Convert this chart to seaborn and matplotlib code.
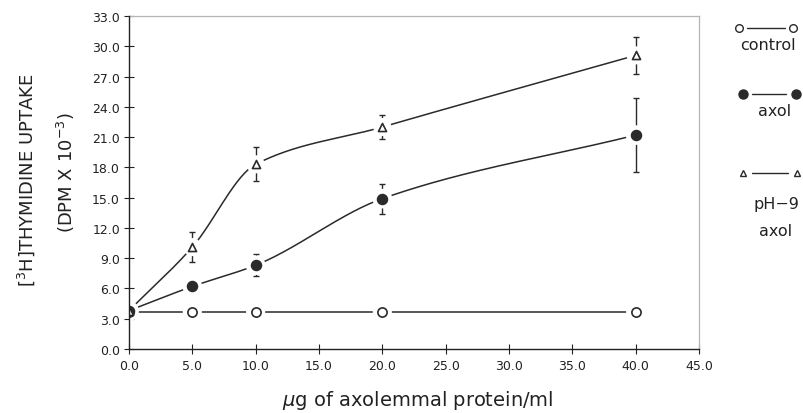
import numpy as np
import pandas as pd
import matplotlib
matplotlib.use("Agg")
import matplotlib.pyplot as plt
import seaborn as sns

# ---- data ----
dose = [0, 5, 10, 20, 40]
control = [3.7, 3.7, 3.7, 3.7, 3.7]
axol = [3.8, 6.2, 8.3, 14.9, 21.2]
axol_err = [0.3, 0.0, 1.1, 1.5, 3.7]
ph9 = [3.8, 10.1, 18.3, 22.0, 29.1]
ph9_err = [0.0, 1.5, 1.7, 1.2, 1.8]
x_ticks = [0, 5, 10, 15, 20, 25, 30, 35, 40, 45]
y_ticks = [0, 3, 6, 9, 12, 15, 18, 21, 24, 27, 30, 33]

sns.set_theme(style="white")
plt.rcParams['font.family'] = ['DejaVu Sans']

LINE = "#2a2a2a"
TXT = "#222222"


def smooth(x, y, n=300):
    """Monotone cubic Hermite curve through the points (drawing only)."""
    x = np.asarray(x, float); y = np.asarray(y, float)
    h = np.diff(x); d = np.diff(y) / h
    m = np.zeros_like(y)
    m[0] = d[0]; m[-1] = d[-1]
    for k in range(1, len(x) - 1):
        if d[k - 1] * d[k] <= 0:
            m[k] = 0
        else:
            w1 = 2 * h[k] + h[k - 1]; w2 = h[k] + 2 * h[k - 1]
            m[k] = (w1 + w2) / (w1 / d[k - 1] + w2 / d[k])
    xs = np.linspace(x[0], x[-1], n)
    idx = np.clip(np.searchsorted(x, xs) - 1, 0, len(x) - 2)
    t = (xs - x[idx]) / h[idx]
    h00 = 2 * t**3 - 3 * t**2 + 1; h10 = t**3 - 2 * t**2 + t
    h01 = -2 * t**3 + 3 * t**2; h11 = t**3 - t**2
    ys = h00 * y[idx] + h10 * h[idx] * m[idx] + h01 * y[idx + 1] + h11 * h[idx] * m[idx + 1]
    return xs, ys


fig = plt.figure(figsize=(8.04, 4.14), dpi=100)
ax = fig.add_axes([0.1604, 0.1546, 0.7090, 0.8043])

series = [
    ("control", control, None, "o", "white", 44, 190),
    ("axol", axol, axol_err, "o", LINE, 50, 200),
    ("pH-9 axol", ph9, ph9_err, "^", "white", 34, 170),
]

for name, vals, err, mk, fc, s, halo in series:
    xs, ys = smooth(dose, vals)
    sns.lineplot(x=xs, y=ys, ax=ax, color=LINE, lw=1.1, sort=False,
                 estimator=None)
    if err is not None:
        ax.errorbar(dose, vals, yerr=err, fmt="none", ecolor=LINE,
                    elinewidth=1.0, capsize=2.5, capthick=1.0, zorder=3)
    df = pd.DataFrame({"dose": dose, "val": vals})
    # white halo to break the line (and error stems) around each marker
    ax.scatter(dose, vals, marker="o", s=halo, c="white", edgecolors="none",
               linewidths=0, zorder=4)
    sns.scatterplot(data=df, x="dose", y="val", ax=ax, marker=mk, s=s,
                    facecolor=fc, edgecolor=LINE, linewidth=1.2, zorder=5)

for ln in ax.get_lines():
    if ln.get_zorder() < 3:
        ln.set_zorder(1.5)

ax.set_xlim(0, 45)
ax.set_ylim(0, 33)
ax.set_xticks(x_ticks)
ax.set_xticklabels([f"{v:.1f}" for v in x_ticks])
ax.set_yticks(y_ticks)
ax.set_yticklabels([f"{v:.1f}" for v in y_ticks])
ax.set_xlabel(""); ax.set_ylabel("")
ax.tick_params(axis="both", direction="inout", length=7, width=0.8,
               colors=TXT, labelsize=9, labelcolor=TXT)
ax.tick_params(axis="x", pad=4)
ax.tick_params(axis="y", pad=3)
ax.tick_params(bottom=True, left=True, top=False, right=False)
for side in ("left", "bottom"):
    ax.spines[side].set_color(TXT); ax.spines[side].set_linewidth(1.0)
    ax.spines[side].set_zorder(6)
for side in ("top", "right"):
    ax.spines[side].set_color("#b5b5b5"); ax.spines[side].set_linewidth(0.9)

# axis labels
fig.text(26 / 804, 1 - 180 / 414, r"[$^{3}$H]THYMIDINE UPTAKE", rotation=90,
         ha="center", va="center", fontsize=13, color=TXT)
fig.text(66 / 804, 1 - 173 / 414, r"(DPM X 10$^{-3}$)", rotation=90,
         ha="center", va="center", fontsize=13, color=TXT)
fig.text(418 / 804, 1 - 401 / 414, r"$\mu$g of axolemmal protein/ml",
         ha="center", va="center", fontsize=14, color=TXT)

# legend drawn in figure pixel coordinates
lg = fig.add_axes([0, 0, 1, 1], zorder=-1)
lg.set_xlim(0, 804); lg.set_ylim(414, 0); lg.axis("off")
lg.patch.set_alpha(0)

def key(y, mk, fc, x1, x2, l1, l2, ms):
    lg.plot([l1, l2], [y, y], color=LINE, lw=1.0)
    lg.plot([x1, x2], [y, y], ls="none", marker=mk, ms=ms,
            mfc=fc, mec=LINE, mew=1.0)

key(29, "o", "white", 739, 793, 747, 785, 5.5)
lg.text(768, 46, "control", ha="center", va="center", fontsize=11.5, color=TXT)
key(95, "o", LINE, 743, 796, 752, 786, 6.5)
lg.text(775, 112, "axol", ha="center", va="center", fontsize=11.5, color=TXT)
key(174, "^", "white", 743, 797, 752, 788, 5)
lg.text(776, 205, "pH\u22129", ha="center", va="center", fontsize=11.5, color=TXT)
lg.text(776, 232, "axol", ha="center", va="center", fontsize=11.5, color=TXT)

fig.savefig("out.png", dpi=100, facecolor="white")
